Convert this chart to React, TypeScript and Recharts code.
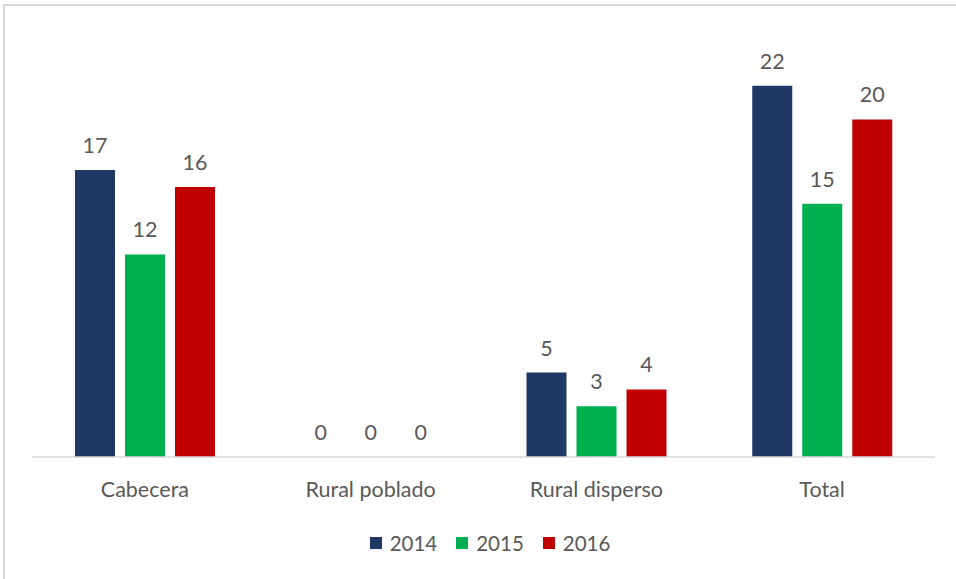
import React from "react";
import { BarChart, Bar, XAxis, YAxis, LabelList } from "recharts";

const categories = ["Cabecera", "Rural poblado", "Rural disperso", "Total"];
const series2014 = [17, 0, 5, 22];
const series2015 = [12, 0, 3, 15];
const series2016 = [16, 0, 4, 20];
const seriesNames = ["2014", "2015", "2016"];
const seriesColors = ["#1f3864", "#00b050", "#c00000"];

const data = categories.map((c, i) => ({
  name: c,
  "2014": series2014[i],
  "2015": series2015[i],
  "2016": series2016[i],
}));

const FONT = "Lato, 'Open Sans', sans-serif";
const TEXT = "#595959";

export default function App() {
  return (
    <div
      style={{
        position: "absolute",
        left: 0,
        top: 0,
        width: 956,
        height: 579,
        overflow: "hidden",
        background: "#fff",
        fontFamily: FONT,
      }}
    >
      <div
        style={{
          position: "absolute",
          left: 3,
          top: 4,
          width: 1000,
          height: 1000,
          border: "2px solid #d9d9d9",
          boxSizing: "border-box",
        }}
      />
      <div style={{ position: "absolute", left: 0, top: 0 }}>
        <BarChart
          width={956}
          height={579}
          data={data}
          margin={{ top: 35, right: 21, bottom: 82, left: 32 }}
          barSize={40}
          barGap={10}
        >
          <XAxis
            dataKey="name"
            height={40}
            tickLine={false}
            axisLine={{ stroke: "#d9d9d9", strokeWidth: 1.5 }}
            tick={{ fill: TEXT, fontSize: 21.5, fontFamily: FONT }}
            tickMargin={19}
            interval={0}
          />
          <YAxis hide domain={[0, 25]} />
          {seriesNames.map((s, i) => (
            <Bar
              key={s}
              dataKey={s}
              fill={seriesColors[i]}
              isAnimationActive={false}
              minPointSize={(v: number) => (v === 0 ? 0.01 : 0)}
            >
              <LabelList
                dataKey={s}
                position="top"
                offset={17}
                style={{ fill: TEXT, fontSize: 21.5, fontFamily: FONT }}
              />
            </Bar>
          ))}
        </BarChart>
      </div>
      <div
        style={{
          position: "absolute",
          left: 0,
          width: 980,
          top: 531,
          height: 24,
          display: "flex",
          justifyContent: "center",
          alignItems: "center",
          gap: 19,
        }}
      >
        {seriesNames.map((s, i) => (
          <div key={s} style={{ display: "flex", alignItems: "center", gap: 8 }}>
            <div style={{ width: 12, height: 12, background: seriesColors[i] }} />
            <span style={{ fontSize: 20.5, color: TEXT, fontFamily: FONT, lineHeight: "24px" }}>{s}</span>
          </div>
        ))}
      </div>
    </div>
  );
}
